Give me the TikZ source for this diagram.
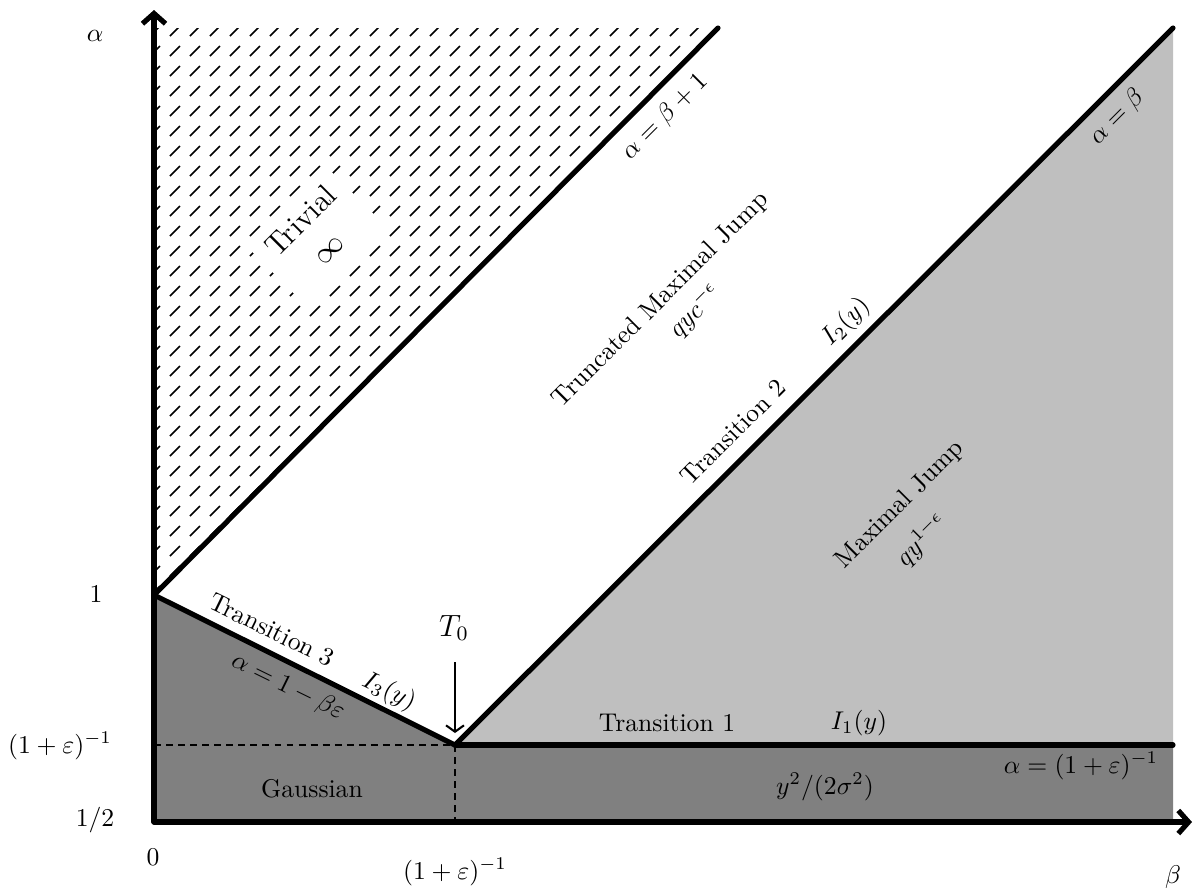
\documentclass[tikz,border=0pt]{standalone}
\usetikzlibrary{arrows.meta}
\begin{document}
\begin{tikzpicture}[x=0.39pt,y=-0.39pt,
  axisline/.style={line width=2pt,line cap=round,-{Straight Barb[length=4pt,width=9pt,line width=2pt]}},
  bound/.style={line width=2pt,line cap=round,line join=round},
  guide/.style={line width=0.8pt,dash pattern=on 2.7pt off 2pt},
  hatchseg/.style={line width=0.6pt},
  lab/.style={inner sep=1pt},
  darkreg/.style={fill=gray,draw=none},
  lightreg/.style={fill=lightgray,draw=none}]
\useasboundingbox (0,0) rectangle (1194,894);
% key points
\coordinate (O) at (154,822);
\coordinate (A1) at (154,595);
\coordinate (T) at (455,745);
\coordinate (R) at (1173,745);
\coordinate (RB) at (1173,822);
\coordinate (P) at (718,28);
\coordinate (Q) at (1173,28);
\coordinate (HT) at (154,28);
\coordinate (YT) at (154,10);
\coordinate (XE) at (1192,822);
\coordinate (DL) at (154,745);
\coordinate (DB) at (455,822);
\coordinate (TA) at (455,662);
\coordinate (TB) at (455,733);
% regions
\fill[darkreg] (O) -- (A1) -- (T) -- (R) -- (RB) -- cycle;
\fill[lightreg] (T) -- (Q) -- (R) -- cycle;
% hatching
\begin{scope}
\clip (A1) -- (P) -- (HT) -- cycle;
\foreach \j in {0,...,29}{
  \foreach \k in {0,...,28}{
    \draw[hatchseg] ({155+20*\k-5},{31+20*\j+5}) -- ++(10,-10);
  }
}
\end{scope}
\node[fill=white,rotate=45,align=center,inner sep=5pt,font=\large] (triv) at (314,234) {Trivial\\[1pt]$\infty$};
% guide lines
\draw[guide] (DL) -- (T);
\draw[guide] (T) -- (DB);
% boundaries
\draw[bound] (A1) -- (P);
\draw[bound] (A1) -- (T) -- (Q);
\draw[bound] (T) -- (R);
% axes
\draw[axisline] (O) -- (YT);
\draw[axisline] (O) -- (XE);
% T0 arrow
\node[lab] (t0) at (454,628) {\large $T_0$};
\draw[line width=0.8pt,-{Straight Barb[length=2.5pt,width=7pt,line width=0.8pt]}] (TA) -- (TB);
% axis labels
\node[lab] (la) at (95,36) {$\alpha$};
\node[lab] (l1) at (96,594) {$1$};
\node[lab] (leps) at (60,746) {$(1+\varepsilon)^{-1}$};
\node[lab] (lhalf) at (95,820) {$1/2$};
\node[lab] (l0) at (153,857) {$0$};
\node[lab] (lxeps) at (455,872) {$(1+\varepsilon)^{-1}$};
\node[lab] (lb) at (1173,877) {$\beta$};
% region labels
\node[lab,rotate=45] (ab1) at (665,117) {$\alpha=\beta+1$};
\node[lab,rotate=45] (ab) at (1117,117) {$\alpha=\beta$};
\node[lab,rotate=45] (tmj) at (661,300) {Truncated Maximal Jump};
\node[lab,rotate=45] (qyc) at (695,311) {$qyc^{-\epsilon}$};
\node[lab,rotate=45] (tr2) at (733,432) {Transition 2};
\node[lab,rotate=45] (i2) at (846,322) {$I_2(y)$};
\node[lab,rotate=45] (mj) at (900,505) {Maximal Jump};
\node[lab,rotate=45] (qy) at (922,540) {$qy^{1-\epsilon}$};
\node[lab,rotate=-26.1] (tr3) at (272,630) {Transition 3};
\node[lab,rotate=-26.1] (a1b) at (288,687) {$\alpha=1-\beta\varepsilon$};
\node[lab,rotate=-26.1] (i3) at (389,692) {$I_3(y)$};
\node[lab] (tr1) at (667,723) {Transition 1};
\node[lab] (i1) at (859,723) {$I_1(y)$};
\node[lab] (aeps) at (1081,766) {$\alpha=(1+\varepsilon)^{-1}$};
\node[lab] (ys) at (825,787) {$y^2/(2\sigma^2)$};
\node[lab] (gau) at (312,789) {Gaussian};
\end{tikzpicture}
\end{document}
